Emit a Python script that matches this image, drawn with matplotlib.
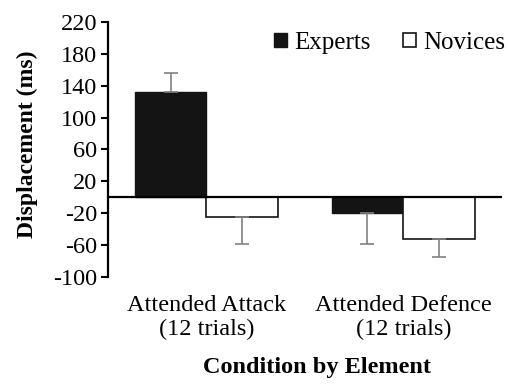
import matplotlib
matplotlib.use("Agg")
from matplotlib import pyplot as plt
import numpy as np

conditions = ["Attended Attack\n(12 trials)", "Attended Defence\n(12 trials)"]
experts = [132, -20]
novices = [-25, -52]
experts_err = [24, 39]
novices_err = [33, 23]
yticks = [-100, -60, -20, 20, 60, 100, 140, 180, 220]

plt.rcParams["font.family"] = ["Liberation Serif", "DejaVu Serif"]
plt.rcParams["axes.unicode_minus"] = False

fig = plt.figure(figsize=(5.08, 3.85), dpi=100)
ax = fig.add_axes([0.2126, 0.2805, 0.7754, 0.6624])

x = np.arange(len(conditions))
w = 0.365
# error bars only outward from bar end
exp_yerr = [[0 if v > 0 else e for v, e in zip(experts, experts_err)],
            [e if v > 0 else 0 for v, e in zip(experts, experts_err)]]
nov_yerr = [[0 if v > 0 else e for v, e in zip(novices, novices_err)],
            [e if v > 0 else 0 for v, e in zip(novices, novices_err)]]

ax.bar(x - w / 2, experts, w, color="#141414", edgecolor="#141414", lw=1, label="Experts", zorder=2)
ax.bar(x + w / 2, novices, w, color="white", edgecolor="#141414", lw=1.2, label="Novices", zorder=2)
ax.errorbar(x - w / 2, experts, yerr=exp_yerr, fmt="none", ecolor="#808080", elinewidth=1.2, capsize=5, capthick=1.2, zorder=3)
ax.errorbar(x + w / 2, novices, yerr=nov_yerr, fmt="none", ecolor="#808080", elinewidth=1.2, capsize=5, capthick=1.2, zorder=3)
ax.axhline(0, color="black", lw=1.6, zorder=4)

ax.set_xlim(-0.5, 1.5)
ax.set_ylim(-100, 220)
ax.set_yticks(yticks)
ax.tick_params(axis="y", labelsize=17.5, length=5, width=1.5, direction="out", pad=3)
ax.set_xticks(x)
ax.set_xticklabels(conditions, fontsize=17.5, linespacing=1.2)
ax.tick_params(axis="x", length=0, pad=13)

for s in ["top", "right", "bottom"]:
    ax.spines[s].set_visible(False)
ax.spines["left"].set_linewidth(1.6)

ax.set_ylabel("Displacement (ms)", fontsize=17, fontweight="bold")
ax.yaxis.set_label_coords(-0.177, 0.52)
ax.set_xlabel("Condition by Element", fontsize=17.5, fontweight="bold")
ax.xaxis.set_label_coords(0.53, -0.315)

ax.legend(loc="upper right", bbox_to_anchor=(1.065, 1.05), ncol=2, frameon=False, fontsize=18,
          handlelength=0.5, handleheight=0.5, handletextpad=0.3, columnspacing=1.3)

fig.savefig("out.png", dpi=100)
